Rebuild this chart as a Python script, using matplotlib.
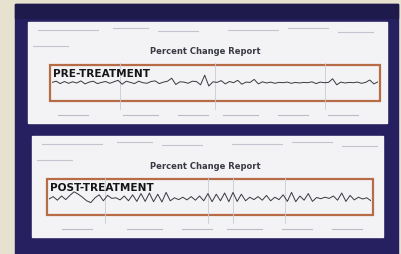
import matplotlib.pyplot as plt
from matplotlib.patches import Rectangle

W, H = 402, 255

# percent change traces
pre_vals = [0.2, 0.6, -0.2, 0.5, -0.1, 0.4, 0.0, 0.7, -0.3, 0.3, 0.6, -0.2,
            0.2, 0.5, -0.1, 0.4, 0.9, -0.4, 0.6, 0.2, -0.2, 0.6, 0.1, -0.1,
            0.5, 0.7, -0.2, 0.3, 0.6, 1.6, -0.5, 0.4, 0.3, -0.1, 0.6, 0.5,
            -0.6, 2.6, -1.0, 0.4, 0.2, 0.8, -0.3, 0.5, 0.1, 0.9, -0.4, 0.3,
            0.2, 1.2, -0.3, 0.4, 0.0, 0.3, -0.1, 0.2, 0.1, 0.3, -0.1, 0.2,
            0.0, 0.2, 0.1, 0.4, -0.2, 0.3, 0.1, 0.2, 1.4, -0.6, 0.3, 0.0,
            0.2, 0.1, 0.3, -0.1, 0.2, 1.0, -0.3, 0.4]
post_vals = [0.0, 0.8, -0.4, 1.0, -0.2, 1.2, 2.4, 1.6, 0.6, -0.6, -1.2, 0.4,
             1.4, -0.6, 1.2, 0.2, 0.4, -0.3, 1.0, -0.6, 1.4, -0.8, 1.8, -0.8,
             2.0, -0.9, 1.6, -1.0, 2.2, -0.6, 0.4, -0.2, 0.6, -0.3, 0.8, -0.4,
             1.0, -0.6, 1.8, -0.9, 1.6, -0.6, 2.0, -0.9, 2.2, -0.8, 1.6, -0.6,
             0.6, -0.2, 0.8, -0.4, 1.2, -0.6, 0.6, -0.2, 1.4, -0.8, 2.2, -0.9,
             1.0, -0.4, 1.8, -0.8, 0.5, 0.1, 0.6, 0.2, 1.0, -0.4, 2.0, -0.8,
             1.2, -0.3, 0.6, 0.0, 0.4, -0.6]
labels = ["PRE-TREATMENT", "POST-TREATMENT"]
title = "Percent Change Report"

fig = plt.figure(figsize=(W / 100, H / 100), dpi=100)
bg = fig.add_axes([0, 0, 1, 1])
bg.set_xlim(0, W)
bg.set_ylim(H, 0)
bg.axis("off")
bg.add_patch(Rectangle((0, 0), W, H, color="#e7e1cf"))
bg.add_patch(Rectangle((15, 5), 383, 255, color="#261f60"))
bg.add_patch(Rectangle((15, 5), 383, 14, color="#1f1a4c"))

docs = [(28, 23, 359, 101), (32, 137, 351, 101)]
boxes = [(50, 66, 330, 36), (47, 180, 326, 36)]
title_y = [52, 167]
trace_c = [84, 200]
grids = [[120, 215, 325], [105, 208, 233, 285]]
series = [pre_vals, post_vals]

for k in range(2):
  dx, dy, dw, dh = docs[k]
  bg.add_patch(Rectangle((dx, dy), dw, dh, color="#f3f3f6"))
  # faint header scribbles
  for (x0, x1, yy) in [(10, 70, 8), (85, 120, 6), (130, 170, 9), (200, 250, 8),
                       (260, 300, 6), (310, 345, 10), (5, 40, 24)]:
    bg.plot([dx + x0, dx + x1], [dy + yy, dy + yy], color="#c4c4ce", lw=0.8)
  for (x0, x1) in [(30, 60), (95, 130), (150, 180), (195, 230), (250, 280), (300, 330)]:
    bg.plot([dx + x0, dx + x1], [dy + dh - 8, dy + dh - 8], color="#bcbcc6", lw=0.8)
  bg.text(205, title_y[k], title, ha="center", va="center",
          fontsize=6, fontweight="bold", color="#3a3a44")
  bx, by, bw, bh = boxes[k]
  for gx in grids[k]:
    bg.plot([gx, gx], [by - 2, by + bh + 8], color="#cacad2", lw=0.6)
  bg.add_patch(Rectangle((bx, by), bw, bh, fill=False, ec="#b86c46", lw=1.6))
  bg.text(bx + 3, by + 8, labels[k], ha="left", va="center",
          fontsize=7.6, fontweight="bold", color="#151515")

  cy = trace_c[k]
  ax = fig.add_axes([(bx + 2) / W, 1 - (cy + 12) / H, (bw - 4) / W, 24 / H])
  ax.plot(range(len(series[k])), series[k], color="#38383e", lw=0.7)
  ax.set_xlim(0, len(series[k]) - 1)
  ax.set_ylim(-4, 4)
  ax.axis("off")

fig.savefig("out.png", dpi=100)
